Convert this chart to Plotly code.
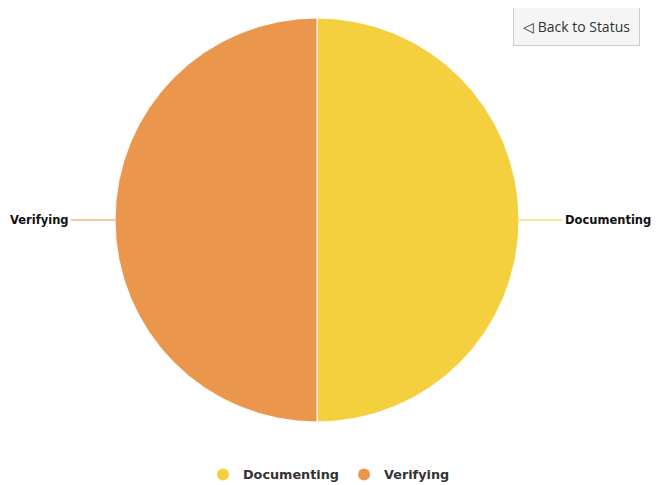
import plotly.graph_objects as go

categories = ["Documenting", "Verifying"]
values = [1, 1]
colors = ["#F4D03F", "#EA974D"]
button_text = "◁ Back to Status"

W, H = 666, 485
OFF = 8  # page body margin offset of the rendered figure
# pie bounds in page pixels
px_left, px_right, px_top, px_bottom = 115, 519, 18, 422
dom_x = [(px_left - OFF) / W, (px_right - OFF) / W]
dom_y = [1 - (px_bottom - OFF) / H, 1 - (px_top - OFF) / H]
cy = (dom_y[0] + dom_y[1]) / 2

fig = go.Figure()
fig.add_trace(go.Pie(
    labels=categories, values=values, sort=False, direction="clockwise", rotation=0,
    marker=dict(colors=colors, line=dict(color="white", width=1)),
    textinfo="none", hoverinfo="label+percent", showlegend=False,
    domain=dict(x=dom_x, y=dom_y),
))

# legend entries with circle markers
for c, col in zip(categories, colors):
    fig.add_trace(go.Scatter(x=[None], y=[None], mode="markers", name=c,
                             marker=dict(symbol="circle", size=14, color=col)))

label_font = dict(family="DejaVu Sans", size=11.5, color="#111111", weight="bold")
# outside labels with connector lines
fig.add_annotation(x=dom_x[1], y=cy, xref="paper", yref="paper", text=categories[0],
                   showarrow=True, arrowhead=0, arrowwidth=1, arrowcolor=colors[0],
                   ax=44, ay=0, xanchor="left", font=label_font)
fig.add_annotation(x=dom_x[0], y=cy, xref="paper", yref="paper", text=categories[1],
                   showarrow=True, arrowhead=0, arrowwidth=1, arrowcolor=colors[1],
                   ax=-44, ay=0, xanchor="right", font=label_font)

fig.add_annotation(x=(640 - OFF) / W, y=1 - (7 - OFF) / H, xref="paper", yref="paper",
                   xanchor="right", yanchor="top",
                   text=button_text, showarrow=False,
                   font=dict(family="Open Sans", size=14, color="#333333"),
                   bgcolor="#f5f5f5", bordercolor="#cccccc", borderwidth=1, borderpad=9)

fig.update_layout(
    width=W, height=H, margin=dict(l=0, r=0, t=0, b=0, autoexpand=False),
    paper_bgcolor="white", plot_bgcolor="white",
    xaxis=dict(visible=False), yaxis=dict(visible=False),
    legend=dict(orientation="h", x=(329 - OFF) / W, xanchor="center", y=0.007, yanchor="bottom",
                font=dict(family="DejaVu Sans", size=12.8, color="#333333", weight="bold"),
                itemsizing="constant"),
)
fig.write_html("out.html")
